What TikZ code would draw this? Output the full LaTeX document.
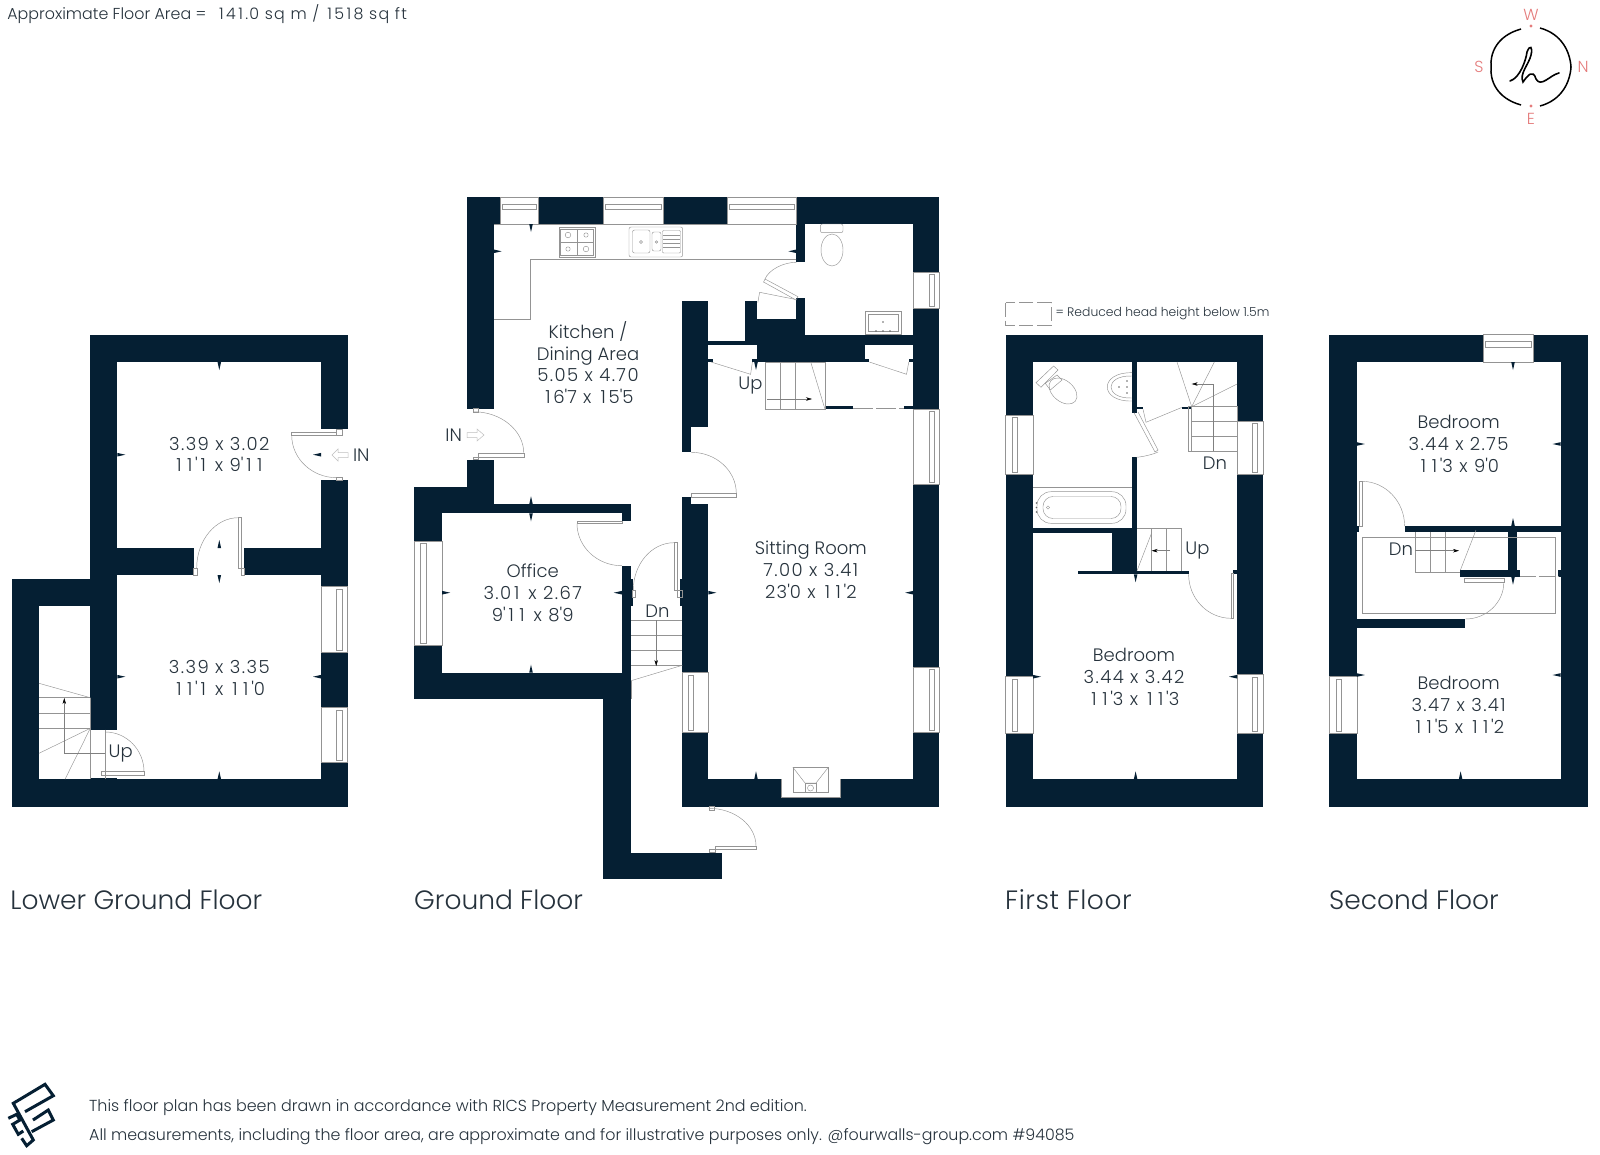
\documentclass[tikz,border=0pt]{standalone}
\usepackage{fontspec}
\setmainfont{Poppins}[UprightFont=* Light]
\usepackage{xcolor}
\usetikzlibrary{arrows.meta, positioning, calc}
\definecolor{navy}{HTML}{051F33}
\definecolor{inktext}{HTML}{26323C}
\definecolor{coral}{HTML}{E57C7C}
\tikzstyle{wall} = [fill=navy]
\tikzstyle{fine} = [draw=black!42, line width=0.45pt]
\tikzstyle{inarrow} = [draw=black!25, line width=0.5pt]
\tikzstyle{roomlabel} = [text=inktext, align=center, inner sep=0pt, font=\fontsize{18}{21.8}\selectfont]
\tikzstyle{stairlabel} = [text=inktext, inner sep=0pt, font=\fontsize{18}{20}\selectfont]
\tikzstyle{floorlabel} = [text=inktext, inner sep=0pt, anchor=west, font=\fontsize{26.5}{30}\selectfont]
\tikzstyle{notelabel} = [text=inktext, inner sep=0pt, anchor=west, font=\fontsize{15.85}{20}\selectfont]
\tikzstyle{compasslabel} = [text=coral, inner sep=0pt, font=\fontsize{16}{20}\selectfont]
\tikzstyle{arrow} = [draw=black!50, line width=0.45pt, -{Stealth[length=6pt, width=3.5pt, black]}]
% figures as the plan prints them: wide ones, straight feet marks
\newcommand{\onefig}{\makebox[.6em][c]{1}}
\newcommand{\feet}{\textquotesingle}
\newcommand{\sizes}[1]{{\addfontfeature{LetterSpace=8}#1}}
% window: frame corners, then inner pane corners
\newcommand{\window}[8]{\fill[white] (#1,#2) rectangle (#3,#4);
  \draw[fine] (#1,#2) rectangle (#3,#4);
  \draw[fine] (#5,#6) rectangle (#7,#8);}
% door swing: free end, other end, corner of the quarter circle
\newcommand{\swing}[6]{\draw[fine] (#1,#2) .. controls ($(#1,#2)!.55!(#5,#6)$) and ($(#3,#4)!.55!(#5,#6)$) .. (#3,#4);}
% dimension mark: position on the wall, direction it looks at
\newcommand{\dimmark}[3]{\fill[navy, shift={(#1,#2)}, rotate=0-(#3)] (0,-1.8) -- (8,0) -- (0,1.8) -- cycle;}
\begin{document}
\begin{tikzpicture}[x=1pt, y=-1pt]
  \useasboundingbox (0,0) rectangle (1600,1154);
  \fill[white] (0,0) rectangle (1600,1154);

  % Lower ground floor
  \fill[wall] (90.3,334.7) rectangle (347.7,362);
  \fill[wall] (90.3,334.7) rectangle (117.3,606);
  \fill[wall] (321,334.7) rectangle (347.7,429.3);
  \fill[wall] (321,480) rectangle (347.7,586.7);
  \fill[wall] (321,652.3) rectangle (347.7,707.7);
  \fill[wall] (321,762) rectangle (347.7,806.7);
  \fill[wall] (90.3,547.7) rectangle (193.7,575);
  \fill[wall] (244.3,547.7) rectangle (347.7,575);
  \fill[wall] (12.3,578.7) rectangle (117.3,606);
  \fill[wall] (12.3,578.7) rectangle (39,806.7);
  \fill[wall] (90.3,606) rectangle (117.3,729.7);
  \fill[wall] (12.3,779.3) rectangle (347.7,806.7);
  \window{321}{586.7}{347.7}{652.3}{336.7}{589.5}{342.7}{650}
  \window{321}{707.7}{347.7}{762}{336.7}{710}{342.7}{760}
  % doors
  \draw[fine] (291.7,432.7) rectangle (336.7,435.3);
  \draw[fine] (336.7,429.3) rectangle (342,435.3);
  \draw[fine] (336.7,477.7) rectangle (342,480);
  \swing{291.7}{435.3}{336.7}{477.7}{291.7}{477.7}
  \draw[fine] (238.3,517.7) rectangle (241.7,568);
  \draw[fine] (241.7,568) rectangle (244.3,575);
  \draw[fine] (193.7,568) rectangle (197,575);
  \swing{238.3}{517.7}{196.7}{568}{196.7}{517.7}
  \draw[fine] (101.7,771.7) rectangle (144,775);
  \swing{105.3}{732}{144}{771.7}{144}{732}
  \fill[wall] (90.3,777.7) rectangle (117.3,779.3);
  % stairs
  \draw[fine] (39,683.3) -- (90.3,697.7);
  \draw[fine] (39,697.7) -- (90.3,697.7);
  \draw[fine] (39,713.3) -- (90.3,713.3);
  \draw[fine] (39,728.3) -- (90.3,728.3);
  \draw[fine] (90.3,728.3) -- (39,753.3);
  \draw[fine] (90.3,728.3) -- (65,779.3);
  \draw[fine] (90.3,697.7) -- (90.3,779.3);
  \draw[fine] (105.3,729.7) -- (105.3,779.3);
  \draw[arrow] (105.3,753.3) -- (64.3,753.3) -- (64.3,698);
  % in arrow
  \draw[inarrow] (348,452.5) -- (338,452.5) -- (338,449) -- (332,455) -- (338,461) -- (338,457.5) -- (348,457.5) -- cycle;

  % Ground floor walls
  \fill[wall] (467.3,197) rectangle (500.2,224);
  \fill[wall] (538.5,197) rectangle (603.2,224);
  \fill[wall] (663,197) rectangle (727.7,224);
  \fill[wall] (796.4,197) rectangle (939,224);
  \fill[wall] (467.3,197) rectangle (493.7,408.7);
  \fill[wall] (796.4,197) rectangle (805,262.3);
  \fill[wall] (913.1,197) rectangle (939,272);
  \fill[wall] (913.1,308) rectangle (939,409.3);
  \fill[wall] (913.1,484) rectangle (939,667.3);
  \fill[wall] (913.1,732.3) rectangle (939,806.7);
  \fill[wall] (682.3,779.3) rectangle (781.4,806.7);
  \fill[wall] (840.5,779.3) rectangle (939,806.7);
  \fill[wall] (781.4,797.3) rectangle (840.5,806.7);
  \fill[wall] (682.3,301) rectangle (708.4,427.3);
  \fill[wall] (682.3,427) rectangle (691.3,452.3);
  \fill[wall] (682.3,497) rectangle (691.3,505);
  \fill[wall] (682.3,504.3) rectangle (708.4,672.7);
  \fill[wall] (679.8,578.7) rectangle (708.4,606);
  \fill[wall] (682.3,732.3) rectangle (708.4,806.7);
  \fill[wall] (708,341.3) rectangle (745,345.3);
  \fill[wall] (744.6,334.7) rectangle (913.1,345.3);
  \fill[wall] (756.7,345) rectangle (865.1,362);
  \fill[wall] (744.6,301) rectangle (756.7,345);
  \fill[wall] (756.7,319.3) rectangle (805,345);
  \fill[wall] (796.4,297.7) rectangle (805,335);
  \fill[wall] (708.4,358.5) rectangle (713.4,362);
  \fill[wall] (752.4,358.5) rectangle (757,362);
  \fill[wall] (865,358.5) rectangle (869.4,362);
  \fill[wall] (908.8,358.5) rectangle (913.2,362);
  \fill[wall] (825,406.3) rectangle (853.3,409.3);
  \fill[wall] (903.8,406.3) rectangle (913.2,409.3);
  \fill[wall] (467.3,459.7) rectangle (493.7,513.3);
  \fill[wall] (414.3,486.7) rectangle (493.7,513.3);
  \fill[wall] (493,504.3) rectangle (631.1,513.3);
  \fill[wall] (621.8,504.3) rectangle (631.1,521.3);
  \fill[wall] (414.3,486.7) rectangle (442.2,541.3);
  \fill[wall] (414.3,645.3) rectangle (442.2,699.3);
  \fill[wall] (414.3,672.7) rectangle (631.1,699.3);
  \fill[wall] (621.8,565.7) rectangle (631.1,673);
  \fill[wall] (621.8,578.7) rectangle (632.6,606);
  \fill[wall] (603.2,699) rectangle (631.1,879);
  \fill[wall] (603.2,852.7) rectangle (721.7,879);
  % windows
  \window{500.2}{197}{538.5}{224}{502}{204.5}{536.5}{209.5}
  \window{603.2}{197}{663}{224}{605}{204.5}{661}{209.5}
  \window{727.7}{197}{796.4}{224}{729.5}{204.5}{794.5}{209.5}
  \window{913.1}{272}{939}{308}{929}{274}{934}{306}
  \window{913.1}{409.3}{939}{484}{929}{411}{934}{482}
  \window{913.1}{667.3}{939}{732.3}{929}{669}{934}{730.5}
  \window{682.3}{672.7}{708.4}{732.3}{688}{675}{693.5}{730}
  \window{414.3}{541.3}{442.2}{645.3}{420.5}{543.5}{426}{643}
  % kitchen fittings
  \draw[fine] (796.4,259.3) -- (529.9,259.3) -- (529.9,319.3) -- (493.7,319.3);
  \draw[fine] (796.4,224) -- (493.7,224);
  \draw[fine] (558.9,227.3) rectangle (595,257.3);
  \draw[fine] (560.5,229) rectangle (593.4,255.6);
  \draw[fine] (577,229) -- (577,255.6);
  \draw[fine] (560.5,242) -- (593.4,242);
  \draw[fine] (568,235) circle (2.8);
  \draw[fine] (586,235) circle (2.2);
  \draw[fine] (568,249) circle (2.2);
  \draw[fine] (586,249) circle (2.8);
  \draw[fine, rounded corners=2pt] (629,227) rectangle (682.7,257);
  \draw[fine, rounded corners=2pt] (632.5,230) rectangle (650,253);
  \draw[fine, rounded corners=2pt] (652,232) rectangle (661,251);
  \draw[fine] (641,242) circle (1.5);
  \draw[fine] (656.5,242) circle (1.2);
  \draw[fine, rounded corners=1pt] (662.5,230.5) rectangle (680.5,253);
  \draw[fine] (663,235) -- (680,235);
  \draw[fine] (663,239) -- (680,239);
  \draw[fine] (663,243) -- (680,243);
  \draw[fine] (663,247) -- (680,247);
  % WC fittings
  \draw[fine, rounded corners=2pt] (820.4,224) rectangle (843,232.7);
  \draw[fine] (832,250) ellipse (11 and 16);
  \draw[fine] (865,311.3) rectangle (901,334.7);
  \draw[fine] (868,314) rectangle (898,331);
  \fill[black!60] (883,322) circle (0.8);
  \fill[black!60] (876,331) circle (0.8);
  \fill[black!60] (883,331) circle (0.8);
  \fill[black!60] (890,331) circle (0.8);
  % fireplace
  \fill[white] (781.4,779.3) rectangle (840.5,797.3);
  \draw[fine] (781.4,779.3) -- (781.4,797.3) -- (840.5,797.3) -- (840.5,779.3);
  \draw[fine] (792.9,767.3) rectangle (828.3,792.7);
  \draw[fine] (792.9,767.3) -- (805,783) -- (816,783) -- (828.3,767.3);
  \draw[fine] (805,783) rectangle (816,792.7);
  \draw[fine] (810.5,788) circle (3);
  % ground doors
  \draw[fine] (478,453.3) rectangle (523.8,457.3);
  \draw[fine] (473.3,408.7) rectangle (478,412);
  \draw[fine] (473.3,457.3) rectangle (478,459.7);
  \swing{473.3}{411.7}{523.8}{453.3}{523.8}{411.7}
  \draw[fine] (691.3,493.3) rectangle (736.3,497);
  \swing{691.3}{452.3}{736.3}{493.3}{736.3}{452.3}
  \draw[fine] (577,521.3) rectangle (621.8,523.5);
  \swing{577}{523.5}{621.8}{565.7}{577}{565.7}
  \draw[fine] (674,542.7) rectangle (677.5,590);
  \draw[fine] (677.5,590) rectangle (682.3,597);
  \draw[fine] (632.6,590) rectangle (635,597);
  \swing{674}{542.7}{633.3}{590}{633.3}{542.7}
  \draw[fine] (714.9,846) rectangle (756,849.3);
  \draw[fine] (708.8,849.3) rectangle (714.9,852.7);
  \draw[fine] (708.8,806.7) rectangle (714,810);
  \swing{708.8}{808.3}{756}{846}{756}{808.3}
  \draw[fine] (765,279) -- (798,296.7) -- (796,300) -- (763.5,282) -- cycle;
  \swing{796.4}{262.3}{765}{279}{772}{262.3}
  \draw[fine] (757.8,302.7) -- (759.6,292.3) -- (795,299.3);
  \draw[fine] (711,362) -- (750.6,374.3) -- (752.4,362);
  \draw[fine] (869.4,362) -- (906.5,374.3) -- (908.8,362);
  % ground stairs
  \draw[fine] (765,362) rectangle (825,409.3);
  \draw[fine] (780,362) -- (780,409.3);
  \draw[fine] (795.4,362) -- (795.4,409.3);
  \draw[fine] (810.7,362) -- (825,409.3);
  \draw[arrow] (767,399) -- (812,399);
  \draw[fine, dash pattern=on 20pt off 3pt] (853.3,408.5) -- (903.8,408.5);
  \draw[fine] (631,620.7) -- (682.3,620.7);
  \draw[fine] (631,635.3) -- (682.3,635.3);
  \draw[fine] (631,650.7) -- (682.3,650.7);
  \draw[fine] (631,665.3) -- (682.3,665.3);
  \draw[fine] (631,680.7) -- (682.3,665.3);
  \draw[fine] (631,680.7) -- (631,699);
  \draw[arrow] (656.2,620) -- (656.2,666);
  % in arrow
  \draw[inarrow] (467,432.5) -- (477,432.5) -- (477,429) -- (484,435) -- (477,441) -- (477,437.5) -- (467,437.5) -- cycle;

  % First floor walls
  \fill[wall] (1005.6,334.7) rectangle (1263.3,362);
  \fill[wall] (1005.6,334.7) rectangle (1033,415.3);
  \fill[wall] (1005.6,474.3) rectangle (1033,676.7);
  \fill[wall] (1005.6,733) rectangle (1033,806.7);
  \fill[wall] (1237,334.7) rectangle (1263.3,421.3);
  \fill[wall] (1237,474.3) rectangle (1263.3,674.6);
  \fill[wall] (1237,733) rectangle (1263.3,806.7);
  \fill[wall] (1005.6,779.3) rectangle (1263.3,806.7);
  \fill[wall] (1132,362) rectangle (1136.6,412.7);
  \fill[wall] (1132,457.3) rectangle (1136.6,528.3);
  \fill[wall] (1033,528.3) rectangle (1137,533.3);
  \fill[wall] (1112,528.3) rectangle (1137,570.7);
  \fill[wall] (1077.6,570.7) rectangle (1188.6,574.3);
  \fill[wall] (1233.3,570) rectangle (1237,574.3);
  \fill[wall] (1181.6,406.7) rectangle (1191.7,409.3);
  \fill[wall] (1132,406.7) rectangle (1143,409.3);
  \window{1005.6}{415.3}{1033}{474.3}{1012}{417}{1017.5}{472}
  \window{1237}{421.3}{1263.3}{474.3}{1252}{423.5}{1257.5}{472}
  \window{1005.6}{676.7}{1033}{733}{1012}{679}{1017.5}{731}
  \window{1237}{674.6}{1263.3}{733}{1252}{677}{1257.5}{731}
  % first floor bathroom
  \draw[fine] (1033,487.3) -- (1132,487.3);
  \draw[fine, rounded corners=14pt] (1037,491.7) rectangle (1126,523.3);
  \draw[fine, rounded corners=10pt] (1043,496.5) rectangle (1121,518.5);
  \draw[fine] (1048,507.5) circle (1.6);
  \fill[black!60] (1036.5,503) circle (0.8);
  \fill[black!60] (1036.5,507.5) circle (0.8);
  \fill[black!60] (1036.5,512) circle (0.8);
  \draw[fine] (1036,382.7) -- (1053.6,366) -- (1058,370) -- (1041,387.3) -- cycle;
  \draw[fine] (1045.3,383.3) -- (1057,375) -- (1062,380) -- (1050.3,390) -- cycle;
  \draw[fine, rotate around={-40:(1063,391)}] (1063,391) ellipse (16 and 10.5);
  \draw[fine] (1132,372.7) .. controls (1099,372) and (1099,402) .. (1132,401);
  \draw[fine] (1132,376) .. controls (1104,375) and (1104,399) .. (1132,398);
  \fill[black!60] (1119,387) circle (0.8);
  \fill[black!60] (1127,381) circle (0.8);
  \fill[black!60] (1127,387) circle (0.8);
  \fill[black!60] (1127,393) circle (0.8);
  % first floor doors
  \draw[fine] (1134,412.7) -- (1155,452) -- (1158,450) -- (1138,412);
  \swing{1158}{452}{1136.6}{457.3}{1150}{456}
  \draw[fine] (1143,409.3) -- (1146,422.3) -- (1181.6,407.5);
  \draw[fine] (1231,573) rectangle (1233.6,618.3);
  \swing{1231}{618.3}{1188.6}{574.3}{1188.6}{618.3}
  % first floor stairs
  \draw[fine] (1137,528.3) -- (1181,528.3) -- (1181,570.7);
  \draw[fine] (1151.6,533) -- (1137,570.7);
  \draw[fine] (1166.3,528.3) -- (1166.3,570.7);
  \draw[fine] (1151.6,528.3) -- (1151.6,570.7);
  \draw[arrow] (1170,550.7) -- (1151.6,550.7);
  \draw[fine] (1188.6,406.7) rectangle (1237,451.7);
  \draw[fine] (1191.7,406.7) -- (1191.7,451.7);
  \draw[fine] (1191.7,421.7) -- (1237,421.7);
  \draw[fine] (1191.7,436.7) -- (1237,436.7);
  \draw[fine] (1191.7,406.7) -- (1177,362);
  \draw[fine] (1191.7,406.7) -- (1214.3,362);
  \draw[fine] (1191.7,406.7) -- (1237,384);
  \draw[arrow] (1213,451) -- (1213,384) -- (1191.7,384);
  % head height key
  \draw[fine, dash pattern=on 14pt off 4pt] (1005.6,302.7) rectangle (1051,325);

  % Second floor walls
  \fill[wall] (1329.4,334.7) rectangle (1483,362);
  \fill[wall] (1533.2,334.7) rectangle (1588,362);
  \fill[wall] (1329.4,334.7) rectangle (1356.8,676.6);
  \fill[wall] (1329.4,733) rectangle (1356.8,806.7);
  \fill[wall] (1560.6,334.7) rectangle (1588,806.7);
  \fill[wall] (1329.4,779.3) rectangle (1588,806.7);
  \fill[wall] (1404.6,526) rectangle (1560.6,532);
  \fill[wall] (1356.8,526) rectangle (1359.4,532);
  \fill[wall] (1508.2,532) rectangle (1517.2,570);
  \fill[wall] (1460.4,570) rectangle (1519.9,576.7);
  \fill[wall] (1558,570) rectangle (1560.6,576.7);
  \fill[wall] (1356.8,619) rectangle (1465.4,627.7);
  \window{1483}{334.7}{1533.2}{362}{1485.5}{341.5}{1531}{347}
  \window{1329.4}{676.6}{1356.8}{733}{1336}{679}{1341.5}{731}
  % reduced height area
  \draw[fine] (1362.4,537.7) rectangle (1555,613.3);
  % second floor stairs
  \draw[fine] (1415.2,532) -- (1415.2,572.3) -- (1460.4,572.3);
  \draw[fine] (1430.3,532) -- (1430.3,572.3);
  \draw[fine] (1445.3,532) -- (1445.3,572.3);
  \draw[fine] (1476,530) -- (1460.4,570);
  \draw[arrow] (1415.2,550.7) -- (1459,550.7);
  \draw[fine, dash pattern=on 16pt off 3pt] (1519.9,576) -- (1558,576);
  % second floor doors
  \draw[fine] (1359.4,481.3) rectangle (1361.8,526);
  \swing{1361.8}{481.3}{1404.6}{526}{1404.6}{481.3}
  \draw[fine] (1464.7,578.3) rectangle (1503.8,582.3);
  \swing{1503.8}{582.3}{1465.4}{619}{1503.8}{619}

  % Dimension marks
  \dimmark{219.3}{362}{90}
  \dimmark{219.3}{548}{-90}
  \dimmark{219.3}{575}{90}
  \dimmark{219.3}{779.3}{-90}
  \dimmark{117.3}{454.7}{0}
  \dimmark{321}{454.7}{180}
  \dimmark{117.3}{676.7}{0}
  \dimmark{321}{676.7}{180}
  \dimmark{531}{224}{90}
  \dimmark{493.7}{251.3}{0}
  \dimmark{796.4}{251.3}{180}
  \dimmark{531}{504.3}{-90}
  \dimmark{531}{513.3}{90}
  \dimmark{442.2}{592.7}{0}
  \dimmark{621.8}{592.7}{180}
  \dimmark{531}{672.7}{-90}
  \dimmark{756}{362}{90}
  \dimmark{756}{779.3}{-90}
  \dimmark{708.4}{592.7}{0}
  \dimmark{913.1}{592.7}{180}
  \dimmark{1135.6}{574.3}{90}
  \dimmark{1135.6}{779.3}{-90}
  \dimmark{1033}{676.7}{0}
  \dimmark{1237}{676.7}{180}
  \dimmark{1513}{362}{90}
  \dimmark{1513}{526}{-90}
  \dimmark{1513}{576.7}{90}
  \dimmark{1356.8}{444}{0}
  \dimmark{1560.6}{444}{180}
  \dimmark{1356.8}{675}{0}
  \dimmark{1560.6}{675}{180}
  \dimmark{1460.6}{779.3}{-90}

  % Room labels
  \node (upperroom) [roomlabel] at (219.3,454.5) {\sizes{3.39 x 3.02}\\\sizes{\onefig\onefig\feet\onefig{} x 9\feet\onefig\onefig}};
  \node (lowerroom) [roomlabel] at (219.3,677.8) {\sizes{3.39 x 3.35}\\\sizes{\onefig\onefig\feet\onefig{} x \onefig\onefig\feet 0}};
  \node (kitchen) [roomlabel] at (588,362.5) {Kitchen /\\Dining Area\\\sizes{5.05 x 4.70}\\\sizes{\onefig 6\feet 7 x \onefig 5\feet 5}};
  \node (office) [roomlabel] at (532.7,593) {Office\\\sizes{3.0\onefig{} x 2.67}\\\sizes{9\feet\onefig\onefig{} x 8\feet 9}};
  \node (sitting) [roomlabel] at (810.8,570) {Sitting Room\\\sizes{7.00 x 3.41}\\\sizes{23\feet 0 x \onefig\onefig\feet 2}};
  \node (firstbedroom) [roomlabel] at (1134,677) {Bedroom\\\sizes{3.44 x 3.42}\\\sizes{\onefig\onefig\feet 3 x \onefig\onefig\feet 3}};
  \node (topbedroom) [roomlabel] at (1458.6,444) {Bedroom\\\sizes{3.44 x 2.75}\\\sizes{\onefig\onefig\feet 3 x 9\feet 0}};
  \node (lowbedroom) [roomlabel] at (1458.6,704.7) {Bedroom\\\sizes{3.47 x 3.41}\\\sizes{\onefig\onefig\feet 5 x \onefig\onefig\feet 2}};

  % Door and stair labels
  \node (inlower) [stairlabel] at (361.3,455) {IN};
  \node (upcellar) [stairlabel] at (120.7,753.3) {Up};
  \node (inground) [stairlabel] at (453.7,435) {IN};
  \node (upground) [stairlabel] at (750.4,385.4) {Up};
  \node (dnground) [stairlabel] at (657.4,611.4) {Dn};
  \node (dnfirst) [stairlabel] at (1215,463) {Dn};
  \node (upfirst) [stairlabel] at (1197.5,550.7) {Up};
  \node (dnsecond) [stairlabel] at (1401,549.3) {Dn};

  % Floor names
  \node (lowerground) [floorlabel] at (10.2,899.7) {Lower Ground Floor};
  \node (groundfloor) [floorlabel] at (414,899.7) {Ground Floor};
  \node (firstfloor) [floorlabel] at (1005,899.7) {{\addfontfeature{LetterSpace=2}First Floor}};
  \node (secondfloor) [floorlabel] at (1329,899.7) {Second Floor};

  % Notes
  \node (area) [notelabel] at (7.2,14.3) {Approximate Floor Area = \hspace{6pt}\sizes{\onefig 4\onefig.0 sq m / \onefig 5\onefig 8 sq ft}};
  \node (reducedkey) [notelabel, font=\fontsize{12.35}{15}\selectfont] at (1055.3,314) {= Reduced head height below 1.5m};
  \node (noteone) [notelabel, font=\fontsize{15.93}{20}\selectfont] at (89,1108) {This floor plan has been drawn in accordance with RICS Property Measurement 2nd edition.};
  \node (notetwo) [notelabel] at (89,1137) {All measurements, including the floor area, are approximate and for illustrative purposes only. @fourwalls-group.com \#94085};

  % Compass
  \draw[line width=1.5pt] (1521,29) .. controls (1496,36) and (1490,54) .. (1491,67) .. controls (1490,80) and (1496,98) .. (1521,105);
  \draw[line width=1.5pt] (1540,28) .. controls (1562,34) and (1570,52) .. (1571,67) .. controls (1570,82) and (1562,100) .. (1540,106);
  \fill[coral] (1531,26) circle (1.6);
  \fill[coral] (1531,106) circle (1.6);
  \node (west) [compasslabel] at (1531,14.5) {W};
  \node (east) [compasslabel] at (1531,118.5) {E};
  \node (south) [compasslabel] at (1479,67) {S};
  \node (north) [compasslabel] at (1583,67) {N};
  \draw[line width=1.6pt, line cap=round] (1510,81) .. controls (1520,78) and (1526,60) .. (1527,52) .. controls (1530,44) and (1533,47) .. (1531,55) .. controls (1529,64) and (1519,74) .. (1523,82) .. controls (1528,75) and (1533,69) .. (1536,79) .. controls (1541,88) and (1550,75) .. (1559,73);

  % Logo
  \draw[navy, line width=3pt] (21.7,1138.3) -- (26.7,1145.7) -- (33.3,1140) -- (13.3,1103.3) -- (45,1084.3) -- (53.3,1095.7) -- (25,1111.7);
  \draw[navy, line width=3pt] (33,1120) -- (48.3,1110) -- (53.3,1120) -- (31.7,1131.7);
  \draw[navy, line width=3pt] (8.3,1118.3) -- (16.7,1114.3) -- (20,1120) -- (12.7,1124.3) -- (18.3,1134.3) -- (23.3,1131);
\end{tikzpicture}
\end{document}
